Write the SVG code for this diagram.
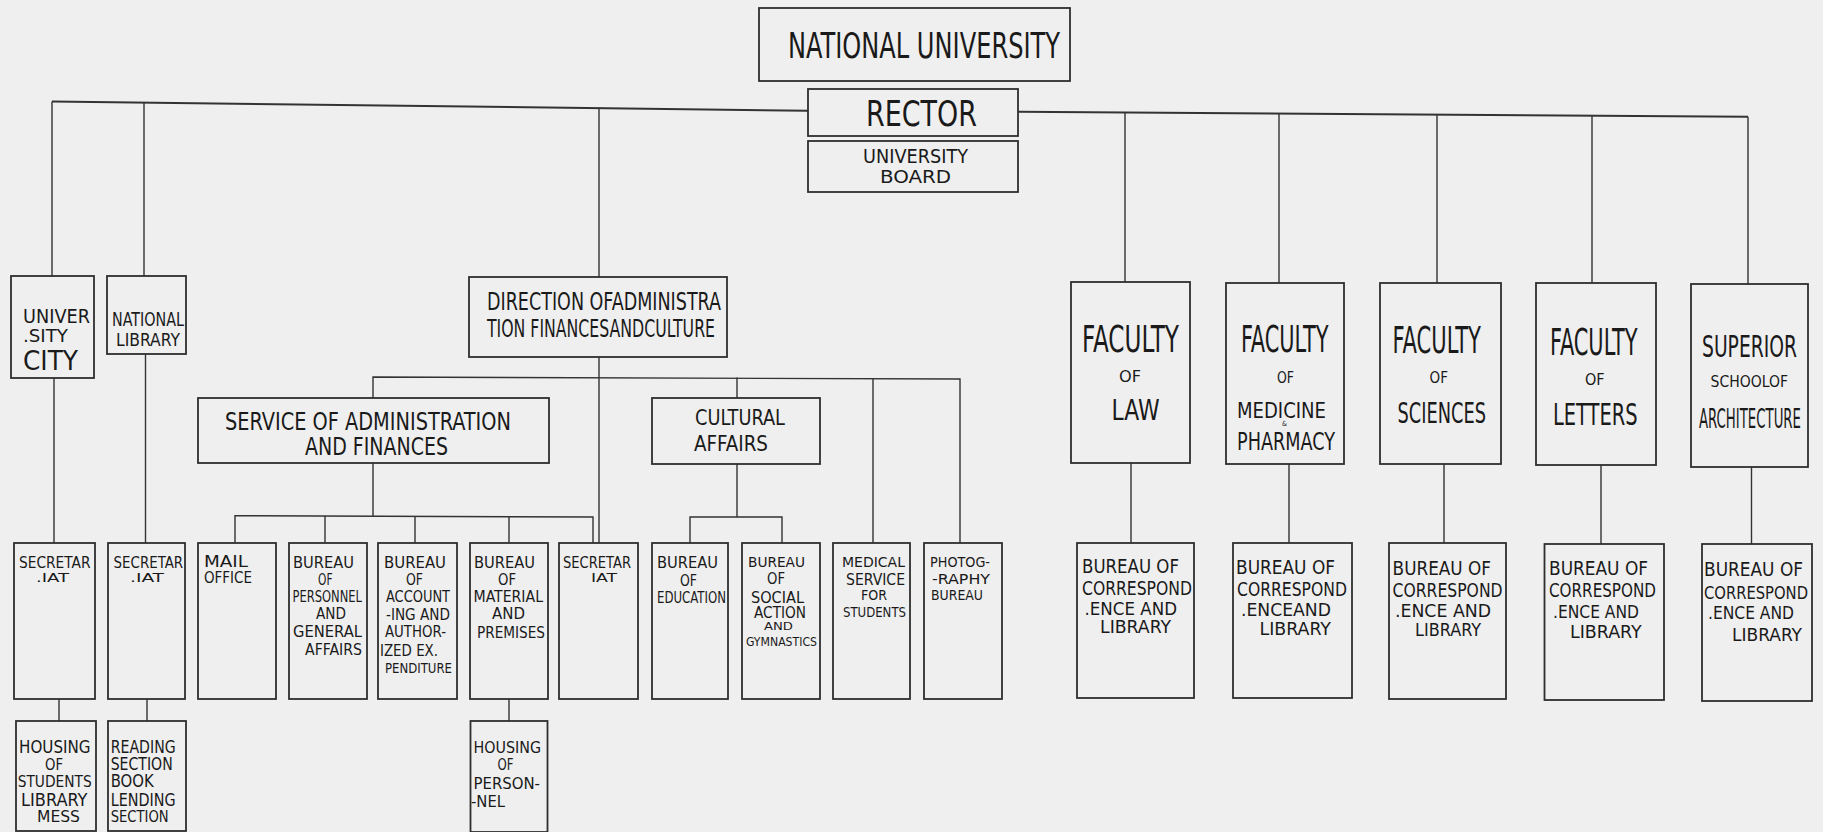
<svg xmlns="http://www.w3.org/2000/svg" width="1823" height="832" viewBox="0 0 1823 832">
<style>
.bg{fill:#efefef}
.box{fill:none;stroke:#2e2e2e;stroke-width:1.8}
.ln{fill:none;stroke:#333;stroke-width:1.4}
.hv{fill:none;stroke:#333;stroke-width:2}
text{font-family:"DejaVu Sans Condensed","DejaVu Sans","Liberation Sans",sans-serif;fill:#1a1a1a}
</style>
<rect class="bg" x="0" y="0" width="1823" height="832"/>

<g id="connectors">
<polyline class="hv" points="52,101.5 808,110.7"/>
<polyline class="hv" points="1018,111.7 1748,116.7"/>
<line class="ln" x1="52" y1="101.5" x2="52" y2="276"/>
<line class="ln" x1="144" y1="102.6" x2="144" y2="276"/>
<line class="ln" x1="599" y1="107.7" x2="599" y2="277"/>
<line class="ln" x1="1125" y1="112.4" x2="1125" y2="282"/>
<line class="ln" x1="1279" y1="113.5" x2="1279" y2="283"/>
<line class="ln" x1="1437" y1="114.6" x2="1437" y2="283"/>
<line class="ln" x1="1592" y1="115.6" x2="1592" y2="283"/>
<line class="ln" x1="1748" y1="116.7" x2="1748" y2="284"/>
<line class="ln" x1="54" y1="378" x2="54" y2="543"/>
<line class="ln" x1="59" y1="699" x2="59" y2="721"/>
<line class="ln" x1="145.5" y1="354" x2="145.5" y2="543"/>
<line class="ln" x1="147" y1="699" x2="147" y2="721"/>
<line class="ln" x1="599" y1="357" x2="599" y2="543"/>
<polyline class="ln" points="373,398 373,377 960,379 960,543"/>
<line class="ln" x1="737" y1="377.5" x2="737" y2="398"/>
<line class="ln" x1="873" y1="378.5" x2="873" y2="543"/>
<line class="ln" x1="373" y1="463" x2="373" y2="516"/>
<polyline class="ln" points="235,543 235,515.7 593,517 593,543"/>
<line class="ln" x1="325" y1="516" x2="325" y2="543"/>
<line class="ln" x1="415" y1="516.3" x2="415" y2="543"/>
<line class="ln" x1="509" y1="516.6" x2="509" y2="543"/>
<line class="ln" x1="737" y1="464" x2="737" y2="517"/>
<polyline class="ln" points="690,543 690,517 782,517 782,543"/>
<line class="ln" x1="509" y1="699" x2="509" y2="721"/>
<line class="ln" x1="1131" y1="463" x2="1131" y2="543"/>
<line class="ln" x1="1289" y1="464" x2="1289" y2="543"/>
<line class="ln" x1="1444" y1="464" x2="1444" y2="543"/>
<line class="ln" x1="1601" y1="465" x2="1601" y2="544"/>
<line class="ln" x1="1751.5" y1="467" x2="1751.5" y2="544"/>
</g>

<g id="national-university">
<rect class="box" x="759" y="8" width="311" height="73"/>
<text x="788" y="58" font-size="36" textLength="272" lengthAdjust="spacingAndGlyphs">NATIONAL UNIVERSITY</text>
</g>
<g id="rector">
<rect class="box" x="808" y="89" width="210" height="47"/>
<text x="866" y="126" font-size="36" textLength="111" lengthAdjust="spacingAndGlyphs">RECTOR</text>
</g>
<g id="university-board">
<rect class="box" x="808" y="141" width="210" height="51"/>
<text x="863" y="163" font-size="19" textLength="105" lengthAdjust="spacingAndGlyphs">UNIVERSITY</text>
<text x="880" y="183" font-size="18" textLength="71" lengthAdjust="spacingAndGlyphs">BOARD</text>
</g>

<g id="university-city">
<rect class="box" x="11" y="276" width="83" height="102"/>
<text x="23" y="323" font-size="19" textLength="67" lengthAdjust="spacingAndGlyphs">UNIVER</text>
<text x="23" y="342" font-size="17" textLength="45" lengthAdjust="spacingAndGlyphs">.SITY</text>
<text x="23" y="370" font-size="27" textLength="55" lengthAdjust="spacingAndGlyphs">CITY</text>
</g>
<g id="national-library">
<rect class="box" x="107" y="276" width="79" height="78"/>
<text x="112" y="326" font-size="19" textLength="72" lengthAdjust="spacingAndGlyphs">NATIONAL</text>
<text x="116" y="346" font-size="17" textLength="64" lengthAdjust="spacingAndGlyphs">LIBRARY</text>
</g>
<g id="direction">
<rect class="box" x="469" y="277" width="258" height="80"/>
<text x="487" y="310" font-size="24" textLength="234" lengthAdjust="spacingAndGlyphs">DIRECTION OFADMINISTRA</text>
<text x="487" y="337" font-size="24" textLength="228" lengthAdjust="spacingAndGlyphs">TION FINANCESANDCULTURE</text>
</g>
<g id="service-admin">
<rect class="box" x="198" y="398" width="351" height="65"/>
<text x="225" y="430" font-size="25" textLength="286" lengthAdjust="spacingAndGlyphs">SERVICE OF ADMINISTRATION</text>
<text x="305" y="455" font-size="24" textLength="143" lengthAdjust="spacingAndGlyphs">AND  FINANCES</text>
</g>
<g id="cultural-affairs">
<rect class="box" x="652" y="398" width="168" height="66"/>
<text x="695" y="425" font-size="21" textLength="90" lengthAdjust="spacingAndGlyphs">CULTURAL</text>
<text x="694" y="451" font-size="22" textLength="74" lengthAdjust="spacingAndGlyphs">AFFAIRS</text>
</g>

<g id="secretariat-1">
<rect class="box" x="14" y="543" width="81" height="156"/>
<text x="19" y="568" font-size="15" textLength="71.5" lengthAdjust="spacingAndGlyphs">SECRETAR</text>
<text x="36" y="582" font-size="13" textLength="33" lengthAdjust="spacingAndGlyphs">.IAT</text>
</g>
<g id="secretariat-2">
<rect class="box" x="108" y="543" width="77" height="156"/>
<text x="113.6" y="568" font-size="15" textLength="69.5" lengthAdjust="spacingAndGlyphs">SECRETAR</text>
<text x="130" y="582" font-size="13" textLength="34" lengthAdjust="spacingAndGlyphs">.IAT</text>
</g>
<g id="mail-office">
<rect class="box" x="198" y="543" width="78" height="156"/>
<text x="204" y="567" font-size="16" textLength="44" lengthAdjust="spacingAndGlyphs">MAIL</text>
<text x="204" y="583" font-size="15" textLength="48" lengthAdjust="spacingAndGlyphs">OFFICE</text>
</g>
<g id="bureau-personnel">
<rect class="box" x="289" y="543" width="78" height="156"/>
<text x="293" y="568" font-size="16" textLength="61" lengthAdjust="spacingAndGlyphs">BUREAU</text>
<text x="318" y="585" font-size="16" textLength="14.5" lengthAdjust="spacingAndGlyphs">OF</text>
<text x="292.5" y="602" font-size="16" textLength="69.5" lengthAdjust="spacingAndGlyphs">PERSONNEL</text>
<text x="316" y="619" font-size="16" textLength="30" lengthAdjust="spacingAndGlyphs">AND</text>
<text x="293" y="637" font-size="16" textLength="69" lengthAdjust="spacingAndGlyphs">GENERAL</text>
<text x="305" y="655" font-size="16" textLength="57" lengthAdjust="spacingAndGlyphs">AFFAIRS</text>
</g>
<g id="bureau-accounting">
<rect class="box" x="378" y="543" width="79" height="156"/>
<text x="384" y="568" font-size="16" textLength="62" lengthAdjust="spacingAndGlyphs">BUREAU</text>
<text x="406" y="585" font-size="16" textLength="17" lengthAdjust="spacingAndGlyphs">OF</text>
<text x="386" y="602" font-size="16" textLength="64" lengthAdjust="spacingAndGlyphs">ACCOUNT</text>
<text x="386" y="620" font-size="16" textLength="64" lengthAdjust="spacingAndGlyphs">-ING AND</text>
<text x="385" y="637" font-size="16" textLength="61" lengthAdjust="spacingAndGlyphs">AUTHOR-</text>
<text x="380" y="656" font-size="16" textLength="58" lengthAdjust="spacingAndGlyphs">IZED EX.</text>
<text x="385" y="673" font-size="14" textLength="67" lengthAdjust="spacingAndGlyphs">PENDITURE</text>
</g>
<g id="bureau-material">
<rect class="box" x="470" y="543" width="78" height="156"/>
<text x="474" y="568" font-size="16" textLength="61" lengthAdjust="spacingAndGlyphs">BUREAU</text>
<text x="498" y="585" font-size="16" textLength="18" lengthAdjust="spacingAndGlyphs">OF</text>
<text x="473.5" y="602" font-size="16" textLength="69.5" lengthAdjust="spacingAndGlyphs">MATERIAL</text>
<text x="492" y="619" font-size="16" textLength="33" lengthAdjust="spacingAndGlyphs">AND</text>
<text x="477" y="638" font-size="16" textLength="68" lengthAdjust="spacingAndGlyphs">PREMISES</text>
</g>
<g id="secretariat-3">
<rect class="box" x="559" y="543" width="79" height="156"/>
<text x="563" y="568" font-size="15" textLength="68" lengthAdjust="spacingAndGlyphs">SECRETAR</text>
<text x="591" y="582" font-size="13" textLength="26" lengthAdjust="spacingAndGlyphs">IAT</text>
</g>
<g id="bureau-education">
<rect class="box" x="652" y="543" width="76" height="156"/>
<text x="657" y="568" font-size="16" textLength="61" lengthAdjust="spacingAndGlyphs">BUREAU</text>
<text x="680" y="586" font-size="16" textLength="17" lengthAdjust="spacingAndGlyphs">OF</text>
<text x="657" y="603" font-size="16" textLength="69" lengthAdjust="spacingAndGlyphs">EDUCATION</text>
</g>
<g id="bureau-social">
<rect class="box" x="742" y="543" width="78" height="156"/>
<text x="748" y="567" font-size="14" textLength="57" lengthAdjust="spacingAndGlyphs">BUREAU</text>
<text x="767" y="584" font-size="15" textLength="18" lengthAdjust="spacingAndGlyphs">OF</text>
<text x="751" y="603" font-size="15" textLength="53" lengthAdjust="spacingAndGlyphs">SOCIAL</text>
<text x="754" y="618" font-size="15" textLength="52" lengthAdjust="spacingAndGlyphs">ACTION</text>
<text x="764" y="630" font-size="11" textLength="29" lengthAdjust="spacingAndGlyphs">AND</text>
<text x="746" y="646" font-size="12" textLength="71" lengthAdjust="spacingAndGlyphs">GYMNASTICS</text>
</g>
<g id="medical-service">
<rect class="box" x="833" y="543" width="77" height="156"/>
<text x="842" y="567" font-size="14" textLength="63" lengthAdjust="spacingAndGlyphs">MEDICAL</text>
<text x="846" y="585" font-size="15" textLength="59" lengthAdjust="spacingAndGlyphs">SERVICE</text>
<text x="861" y="600" font-size="14" textLength="26" lengthAdjust="spacingAndGlyphs">FOR</text>
<text x="843" y="617" font-size="14" textLength="63" lengthAdjust="spacingAndGlyphs">STUDENTS</text>
</g>
<g id="photography-bureau">
<rect class="box" x="924" y="543" width="78" height="156"/>
<text x="930" y="567" font-size="14" textLength="60" lengthAdjust="spacingAndGlyphs">PHOTOG-</text>
<text x="932" y="584" font-size="14" textLength="58" lengthAdjust="spacingAndGlyphs">-RAPHY</text>
<text x="931" y="600" font-size="14" textLength="52" lengthAdjust="spacingAndGlyphs">BUREAU</text>
</g>

<g id="housing-students">
<rect class="box" x="16" y="721" width="80" height="110"/>
<text x="19" y="753" font-size="17" textLength="71.5" lengthAdjust="spacingAndGlyphs">HOUSING</text>
<text x="45" y="770" font-size="16" textLength="18" lengthAdjust="spacingAndGlyphs">OF</text>
<text x="17.7" y="787" font-size="15" textLength="74" lengthAdjust="spacingAndGlyphs">STUDENTS</text>
<text x="21" y="806" font-size="17" textLength="66.5" lengthAdjust="spacingAndGlyphs">LIBRARY</text>
<text x="37" y="822" font-size="16" textLength="43" lengthAdjust="spacingAndGlyphs">MESS</text>
</g>
<g id="reading-section">
<rect class="box" x="108" y="721" width="78" height="110"/>
<text x="110.7" y="753" font-size="17" textLength="65" lengthAdjust="spacingAndGlyphs">READING</text>
<text x="110.7" y="770" font-size="17" textLength="62" lengthAdjust="spacingAndGlyphs">SECTION</text>
<text x="110.7" y="787" font-size="17" textLength="43" lengthAdjust="spacingAndGlyphs">BOOK</text>
<text x="110.7" y="806" font-size="17" textLength="65" lengthAdjust="spacingAndGlyphs">LENDING</text>
<text x="110.7" y="822" font-size="16" textLength="58" lengthAdjust="spacingAndGlyphs">SECTION</text>
</g>
<g id="housing-personnel">
<rect class="box" x="470.5" y="721" width="77" height="111"/>
<text x="473.5" y="753" font-size="16" textLength="67.5" lengthAdjust="spacingAndGlyphs">HOUSING</text>
<text x="497.5" y="770" font-size="16" textLength="16" lengthAdjust="spacingAndGlyphs">OF</text>
<text x="473.5" y="789" font-size="16" textLength="66.5" lengthAdjust="spacingAndGlyphs">PERSON-</text>
<text x="471" y="807" font-size="16" textLength="34" lengthAdjust="spacingAndGlyphs">-NEL</text>
</g>

<g id="faculty-law">
<rect class="box" x="1071" y="282" width="119" height="181"/>
<text x="1082" y="352" font-size="37" textLength="97" lengthAdjust="spacingAndGlyphs">FACULTY</text>
<text x="1119" y="382" font-size="15" textLength="22" lengthAdjust="spacingAndGlyphs">OF</text>
<text x="1111.6" y="420" font-size="28" textLength="48" lengthAdjust="spacingAndGlyphs">LAW</text>
</g>
<g id="faculty-medicine">
<rect class="box" x="1226" y="283" width="118" height="181"/>
<text x="1241" y="352" font-size="37" textLength="87.5" lengthAdjust="spacingAndGlyphs">FACULTY</text>
<text x="1277" y="383" font-size="15" textLength="17" lengthAdjust="spacingAndGlyphs">OF</text>
<text x="1237" y="418" font-size="22" textLength="89" lengthAdjust="spacingAndGlyphs">MEDICINE</text>
<text x="1282" y="426" font-size="7">&amp;</text>
<text x="1237" y="450" font-size="24" textLength="98" lengthAdjust="spacingAndGlyphs">PHARMACY</text>
</g>
<g id="faculty-sciences">
<rect class="box" x="1380" y="283" width="121" height="181"/>
<text x="1392.6" y="353" font-size="37" textLength="88.4" lengthAdjust="spacingAndGlyphs">FACULTY</text>
<text x="1429.6" y="383" font-size="15" textLength="18.4" lengthAdjust="spacingAndGlyphs">OF</text>
<text x="1397.5" y="423" font-size="29" textLength="88.5" lengthAdjust="spacingAndGlyphs">SCIENCES</text>
</g>
<g id="faculty-letters">
<rect class="box" x="1536" y="283" width="120" height="182"/>
<text x="1550" y="355" font-size="37" textLength="87.6" lengthAdjust="spacingAndGlyphs">FACULTY</text>
<text x="1585" y="385" font-size="16" textLength="19.6" lengthAdjust="spacingAndGlyphs">OF</text>
<text x="1553" y="425" font-size="30" textLength="84.6" lengthAdjust="spacingAndGlyphs">LETTERS</text>
</g>
<g id="superior-school">
<rect class="box" x="1691" y="284" width="117" height="183"/>
<text x="1702" y="357" font-size="31" textLength="95" lengthAdjust="spacingAndGlyphs">SUPERIOR</text>
<text x="1710.6" y="387" font-size="15" textLength="77.4" lengthAdjust="spacingAndGlyphs">SCHOOLOF</text>
<text x="1699" y="428" font-size="26" textLength="102" lengthAdjust="spacingAndGlyphs">ARCHITECTURE</text>
</g>

<g id="bureau-corr-law">
<rect class="box" x="1077" y="543" width="117" height="155"/>
<text x="1082" y="573" font-size="20" textLength="97" lengthAdjust="spacingAndGlyphs">BUREAU OF</text>
<text x="1082" y="595" font-size="19" textLength="110" lengthAdjust="spacingAndGlyphs">CORRESPOND</text>
<text x="1084.5" y="615" font-size="18" textLength="92.5" lengthAdjust="spacingAndGlyphs">.ENCE AND</text>
<text x="1100" y="633" font-size="17" textLength="71" lengthAdjust="spacingAndGlyphs">LIBRARY</text>
</g>
<g id="bureau-corr-medicine">
<rect class="box" x="1233" y="543" width="119" height="155"/>
<text x="1236" y="574" font-size="20" textLength="99" lengthAdjust="spacingAndGlyphs">BUREAU OF</text>
<text x="1237" y="596" font-size="19" textLength="110" lengthAdjust="spacingAndGlyphs">CORRESPOND</text>
<text x="1241" y="616" font-size="18" textLength="90" lengthAdjust="spacingAndGlyphs">.ENCEAND</text>
<text x="1259.5" y="635" font-size="17" textLength="71.5" lengthAdjust="spacingAndGlyphs">LIBRARY</text>
</g>
<g id="bureau-corr-sciences">
<rect class="box" x="1389" y="543" width="117" height="156"/>
<text x="1392.6" y="575" font-size="20" textLength="98.4" lengthAdjust="spacingAndGlyphs">BUREAU OF</text>
<text x="1392.6" y="597" font-size="19" textLength="110" lengthAdjust="spacingAndGlyphs">CORRESPOND</text>
<text x="1395" y="617" font-size="18" textLength="96" lengthAdjust="spacingAndGlyphs">.ENCE AND</text>
<text x="1415" y="636" font-size="17" textLength="66" lengthAdjust="spacingAndGlyphs">LIBRARY</text>
</g>
<g id="bureau-corr-letters">
<rect class="box" x="1544.5" y="544" width="119.5" height="156"/>
<text x="1549" y="575" font-size="20" textLength="99" lengthAdjust="spacingAndGlyphs">BUREAU OF</text>
<text x="1549" y="597" font-size="19" textLength="107" lengthAdjust="spacingAndGlyphs">CORRESPOND</text>
<text x="1553" y="618" font-size="18" textLength="86" lengthAdjust="spacingAndGlyphs">.ENCE AND</text>
<text x="1570" y="638" font-size="18" textLength="71.6" lengthAdjust="spacingAndGlyphs">LIBRARY</text>
</g>
<g id="bureau-corr-architecture">
<rect class="box" x="1702" y="544" width="110" height="157"/>
<text x="1704" y="576" font-size="20" textLength="99" lengthAdjust="spacingAndGlyphs">BUREAU OF</text>
<text x="1704" y="599" font-size="18" textLength="104" lengthAdjust="spacingAndGlyphs">CORRESPOND</text>
<text x="1708" y="619" font-size="18" textLength="86" lengthAdjust="spacingAndGlyphs">.ENCE AND</text>
<text x="1732" y="641" font-size="18" textLength="70" lengthAdjust="spacingAndGlyphs">LIBRARY</text>
</g>
</svg>
